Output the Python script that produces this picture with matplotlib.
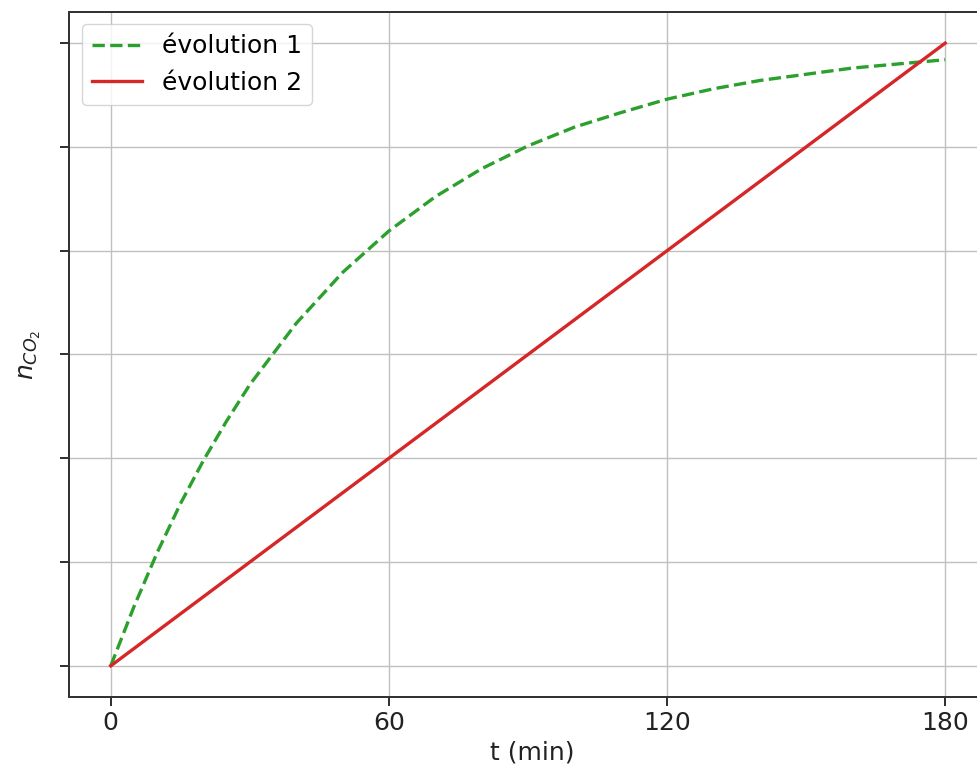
import numpy as np
import matplotlib.pyplot as plt

# values (min, arbitrary units)
t1 = [0, 5, 10, 15, 20, 25, 30, 40, 50, 60, 70, 80, 90, 100, 110, 120, 130, 140, 150, 160, 170, 180]
n1 = [0, 0.57, 1.09, 1.56, 1.98, 2.36, 2.71, 3.30, 3.79, 4.19, 4.52, 4.79, 5.01, 5.19,
      5.33, 5.46, 5.56, 5.64, 5.70, 5.76, 5.80, 5.84]
t2 = [0, 180]
n2 = [0, 6]

xticks = [0, 60, 120, 180]
yticks = [0, 1, 2, 3, 4, 5, 6]

s = 1.8
plt.rcParams['font.size'] = 18

fig = plt.figure(figsize=(9.78, 7.74), dpi=100)
# right spine falls just outside the picture, as in the (cropped) reference
ax = fig.add_axes([0.0706, 0.0995, 0.948, 0.885])

ax.plot(t1, n1, '--', color='tab:green', lw=2.4, label='évolution 1')
ax.plot(t2, n2, '-', color='tab:red', lw=2.4, label='évolution 2')

ax.set_xlim(-9, 191)
ax.set_ylim(-0.3, 6.3)
ax.set_xticks(xticks)
ax.set_yticks(yticks)
ax.set_yticklabels([])
ax.tick_params(length=3.5 * s, width=0.8 * s, colors='#333333', labelcolor='#222222')
for sp in ax.spines.values():
    sp.set_linewidth(0.8 * s)
    sp.set_color('#333333')
ax.grid(True, lw=1.0, color='#c0c0c0')

ax.set_xlabel('t (min)', color='#222222')
ax.set_ylabel('$n_{CO_2}$', color='#222222')
ax.yaxis.set_label_coords(-0.028, 0.5)

ax.legend(loc='upper left', fontsize=18)

fig.savefig('out.png', dpi=100)
